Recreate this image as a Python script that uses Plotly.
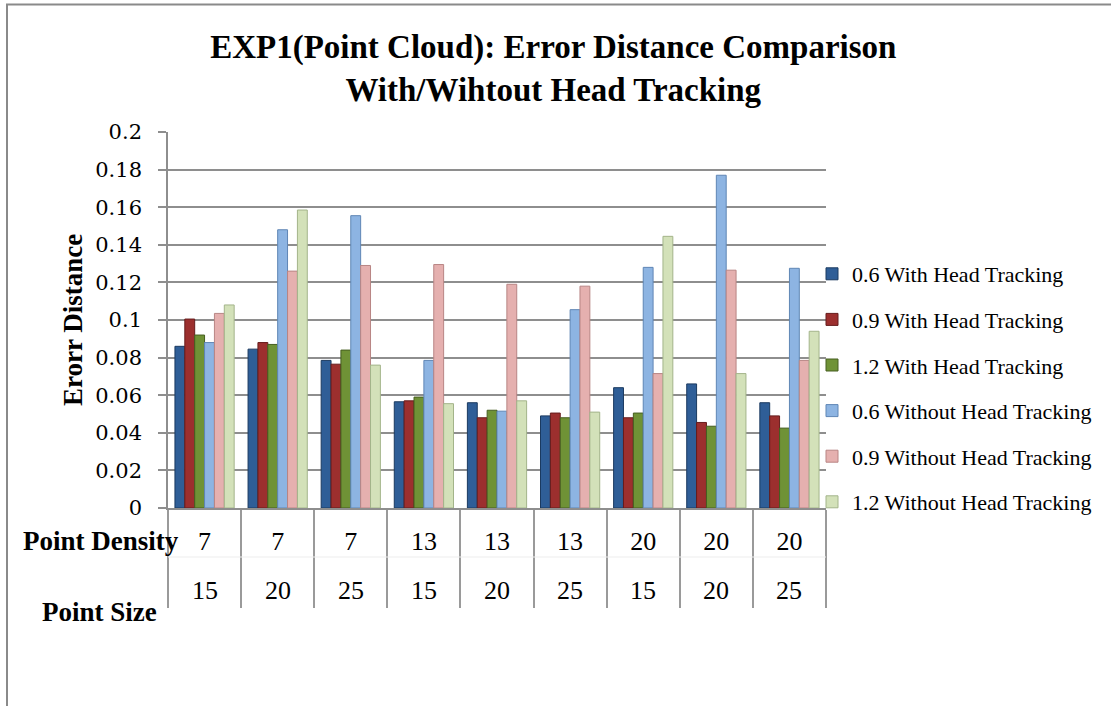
import plotly.graph_objects as go

# Experimental conditions (one column per condition)
point_density = [7, 7, 7, 13, 13, 13, 20, 20, 20]
point_size = [15, 20, 25, 15, 20, 25, 15, 20, 25]

# Mean error distance per series
with_06 = [0.086, 0.0845, 0.0785, 0.0565, 0.056, 0.049, 0.064, 0.066, 0.056]
with_09 = [0.1005, 0.088, 0.0765, 0.057, 0.048, 0.0505, 0.048, 0.0455, 0.049]
with_12 = [0.092, 0.087, 0.084, 0.059, 0.052, 0.048, 0.0505, 0.0435, 0.0425]
without_06 = [0.088, 0.148, 0.1555, 0.0785, 0.0515, 0.1055, 0.128, 0.177, 0.1275]
without_09 = [0.1035, 0.126, 0.129, 0.1295, 0.119, 0.118, 0.0715, 0.1265, 0.0785]
without_12 = [0.108, 0.1585, 0.076, 0.0555, 0.057, 0.051, 0.1445, 0.0715, 0.094]

series_names = [
    "0.6 With Head Tracking",
    "0.9 With Head Tracking",
    "1.2 With Head Tracking",
    "0.6 Without Head Tracking",
    "0.9 Without Head Tracking",
    "1.2 Without Head Tracking",
]
series_values = [with_06, with_09, with_12, without_06, without_09, without_12]
fill_colors = ["#2F5E97", "#9C2F2E", "#6F9236", "#8DB4E2", "#E5B0AF", "#D3E1B9"]
edge_colors = ["#1B3A60", "#661C1C", "#465E20", "#5F86B5", "#B88584", "#A3B48A"]

y_ticks = [0, 0.02, 0.04, 0.06, 0.08, 0.1, 0.12, 0.14, 0.16, 0.18, 0.2]
y_tick_text = ["0", "0.02", "0.04", "0.06", "0.08", "0.1", "0.12", "0.14", "0.16", "0.18", "0.2"]

categories = [f"{d}-{s}" for d, s in zip(point_density, point_size)]

W, H = 1111, 706
ML, MR, MT, MB = 168, 285, 132, 198
PW, PH = W - ML - MR, H - MT - MB


def px_x(p):
    return (p - ML) / PW


def px_y(p):
    return (H - MB - p) / PH


SERIF = "Liberation Serif"
GRID = "#8E8E8E"

fig = go.Figure()
for i, (name, vals) in enumerate(zip(series_names, series_values)):
    fig.add_trace(go.Bar(
        name=name,
        x=categories,
        y=vals,
        legendgroup=f"g{i}",
        marker=dict(color=fill_colors[i], line=dict(color=edge_colors[i], width=1)),
    ))

fig.update_layout(
    width=W,
    height=H,
    margin=dict(l=ML, r=MR, t=MT, b=MB, pad=0, autoexpand=False),
    paper_bgcolor="white",
    plot_bgcolor="white",
    barmode="group",
    bargap=0.19,
    bargroupgap=0,
    title=dict(
        text="EXP1(Point Cloud): Error Distance Comparison<br>With/Wihtout Head Tracking",
        font=dict(family=SERIF, size=33, color="black", weight="bold"),
        x=0.498,
        xref="container",
        xanchor="center",
        y=1 - 58 / H,
        yref="container",
        yanchor="top",
    ),
    legend=dict(
        x=812 / W,
        xref="container",
        xanchor="left",
        y=1 - 253 / H,
        yref="container",
        yanchor="top",
        bgcolor="rgba(0,0,0,0)",
        font=dict(family=SERIF, size=22, color="black"),
        tracegroupgap=14,
        itemwidth=30,
    ),
    showlegend=True,
)

fig.update_yaxes(
    range=[0, 0.2],
    automargin=False,
    tickvals=y_ticks,
    ticktext=y_tick_text,
    tickfont=dict(family="DejaVu Serif", size=21, color="black"),
    ticklabelstandoff=12,
    showgrid=True,
    gridcolor=GRID,
    gridwidth=1.6,
    zeroline=False,
    showline=True,
    linecolor=GRID,
    linewidth=1.6,
    ticks="outside",
    ticklen=8,
    tickcolor=GRID,
    tickwidth=1.6,
    title=dict(
        text="Erorr Distance",
        font=dict(family=SERIF, size=27, color="black", weight="bold"),
        standoff=5,
    ),
)

# First table row: point density, with column dividers
fig.update_xaxes(
    type="category",
    automargin=False,
    range=[-0.5, len(categories) - 0.5],
    tickmode="array",
    tickvals=categories,
    ticktext=[str(d) for d in point_density],
    tickson="boundaries",
    ticks="outside",
    ticklen=98,
    tickwidth=2,
    tickcolor="#9A9A9A",
    ticklabelstandoff=9,
    tickfont=dict(family=SERIF, size=26, color="black"),
    showgrid=False,
    showline=True,
    linecolor=GRID,
    linewidth=1.6,
    zeroline=False,
)

# Second table row: point size, placed on each category column
for cat, size in zip(categories, point_size):
    fig.add_annotation(
        text=str(size), xref="x", yref="paper",
        x=cat, y=px_y(590), xanchor="center", yanchor="middle",
        showarrow=False, font=dict(family=SERIF, size=26, color="black"),
    )

# Row captions of the table
fig.add_annotation(
    text="<b>Point Density</b>", xref="paper", yref="paper",
    x=px_x(181), y=px_y(541), xanchor="right", yanchor="middle",
    showarrow=False, font=dict(family=SERIF, size=27, color="black"),
)
fig.add_annotation(
    text="<b>Point Size</b>", xref="paper", yref="paper",
    x=px_x(99), y=px_y(612), xanchor="center", yanchor="middle",
    showarrow=False, font=dict(family=SERIF, size=27, color="black"),
)

# Faint rule between the two table rows
fig.add_shape(
    type="line", xref="paper", yref="paper",
    x0=0, x1=1, y0=px_y(557), y1=px_y(557),
    line=dict(color="#EDEDED", width=1),
)

# Chart frame
fig.add_shape(
    type="rect", xref="paper", yref="paper",
    x0=px_x(7), x1=px_x(W + 20), y0=px_y(H + 20), y1=px_y(4.5),
    line=dict(color="#8A8A8A", width=2),
    fillcolor="rgba(0,0,0,0)",
    layer="below",
)

fig.write_html("out.html")
